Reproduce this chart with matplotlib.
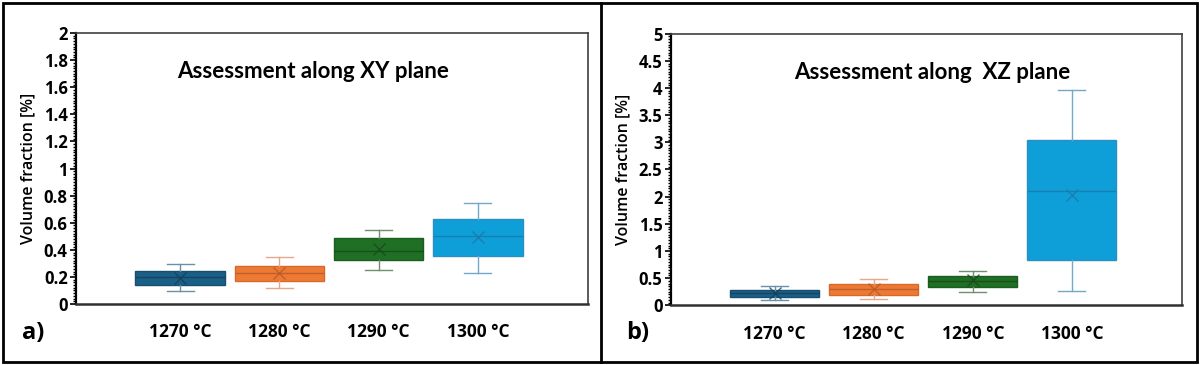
import matplotlib
matplotlib.use("Agg")
import matplotlib.pyplot as plt
from matplotlib.patches import Rectangle
from matplotlib.lines import Line2D
from matplotlib.ticker import MultipleLocator, AutoMinorLocator

temps = ["1270 °C", "1280 °C", "1290 °C", "1300 °C"]

# XY plane (panel a)
xy_whislo = [0.094, 0.118, 0.253, 0.229]
xy_q1 = [0.140, 0.170, 0.325, 0.354]
xy_med = [0.197, 0.229, 0.391, 0.504]
xy_q3 = [0.246, 0.283, 0.485, 0.627]
xy_whishi = [0.293, 0.345, 0.544, 0.743]
xy_mean = [0.194, 0.227, 0.404, 0.492]

# XZ plane (panel b)
xz_whislo = [0.098, 0.116, 0.245, 0.27]
xz_q1 = [0.153, 0.196, 0.343, 0.84]
xz_med = [0.220, 0.295, 0.440, 2.10]
xz_q3 = [0.282, 0.393, 0.535, 3.05]
xz_whishi = [0.350, 0.480, 0.638, 3.97]
xz_mean = [0.220, 0.295, 0.467, 2.035]

fills = ["#1b5f86", "#ed7a33", "#1f6f24", "#0f9fd8"]
edges = ["#174f70", "#d9692a", "#1a5d1f", "#2b8fc0"]
whisk = ["#6990a8", "#e6a78a", "#6f8f70", "#72a8c8"]
dark = ["#143f5a", "#b8582a", "#174a1a", "#1c78a6"]

fig = plt.figure(figsize=(12, 3.65), dpi=100)

label_font = "Open Sans"
title_font = "Lato"


def panel(rect, whislo, q1, med, q3, whishi, mean, ymax, ystep, title, tx):
    ax = fig.add_axes(rect)
    for i in range(len(temps)):
        s = {"whislo": whislo[i], "q1": q1[i], "med": med[i],
             "q3": q3[i], "whishi": whishi[i], "mean": mean[i]}
        ax.bxp([s], positions=[i], widths=0.9, capwidths=0.27,
               showmeans=True, showfliers=False, patch_artist=True,
               boxprops=dict(facecolor=fills[i], edgecolor=edges[i], linewidth=1),
               whiskerprops=dict(color=whisk[i], linewidth=1),
               capprops=dict(color=whisk[i], linewidth=1),
               medianprops=dict(color=dark[i], linewidth=1, alpha=0.8),
               meanprops=dict(marker="x", markeredgecolor=dark[i],
                              markersize=8, markeredgewidth=1, alpha=0.8))
    ax.set_xlim(-1.05, 4.11)
    ax.set_ylim(0, ymax)
    ax.yaxis.set_major_locator(MultipleLocator(ystep))
    ax.yaxis.set_minor_locator(AutoMinorLocator(10))
    ax.yaxis.set_major_formatter(matplotlib.ticker.FuncFormatter(lambda v, p: f"{v:g}"))
    ax.set_xticks(range(len(temps)))
    ax.set_xticklabels(temps, fontfamily=label_font, fontweight="bold", fontsize=12.5)
    ax.tick_params(axis="x", length=0, pad=14)
    ax.tick_params(axis="y", which="major", length=4, width=1.2, pad=2,
                   labelsize=12)
    ax.tick_params(axis="y", which="minor", length=2.5, width=1)
    for lab in ax.get_yticklabels():
        lab.set_fontfamily(label_font)
        lab.set_fontweight("bold")
    ax.set_ylabel("Volume fraction [%]", fontfamily=label_font, fontsize=11.5,
                  fontweight="semibold", labelpad=5)
    ax.spines["left"].set_linewidth(1.6)
    ax.spines["left"].set_color("black")
    ax.spines["bottom"].set_linewidth(1.8)
    ax.spines["bottom"].set_color("#303030")
    for sp in ["top", "right"]:
        ax.spines[sp].set_linewidth(1.2)
        ax.spines[sp].set_color("#404040")
    ax.text(tx, 0.857, title, transform=ax.transAxes, ha="center", va="center",
            fontfamily=title_font, fontweight="bold", fontsize=16)
    return ax


panel([0.0633, 0.167, 0.4267, 0.7425], xy_whislo, xy_q1, xy_med, xy_q3,
      xy_whishi, xy_mean, 2, 0.2, "Assessment along XY plane", 0.463)
panel([0.559, 0.1636, 0.4258, 0.7441], xz_whislo, xz_q1, xz_med, xz_q3,
      xz_whishi, xz_mean, 5, 0.5, "Assessment along  XZ plane", 0.512)

fig.text(22 / 1200, 1 - 333 / 365, "a)", fontfamily=label_font, fontweight="bold",
         fontsize=17, va="center", ha="left")
fig.text(626 / 1200, 1 - 333 / 365, "b)", fontfamily=label_font, fontweight="bold",
         fontsize=17, va="center", ha="left")

# panel frames
fig.add_artist(Rectangle((3 / 1200, 3 / 365), 1194 / 1200, 359 / 365,
                         transform=fig.transFigure, fill=False,
                         edgecolor="black", linewidth=2))
fig.add_artist(Line2D([601 / 1200, 601 / 1200], [3 / 365, 362 / 365],
                      transform=fig.transFigure, color="black", linewidth=2))

fig.savefig("out.png", dpi=100)
